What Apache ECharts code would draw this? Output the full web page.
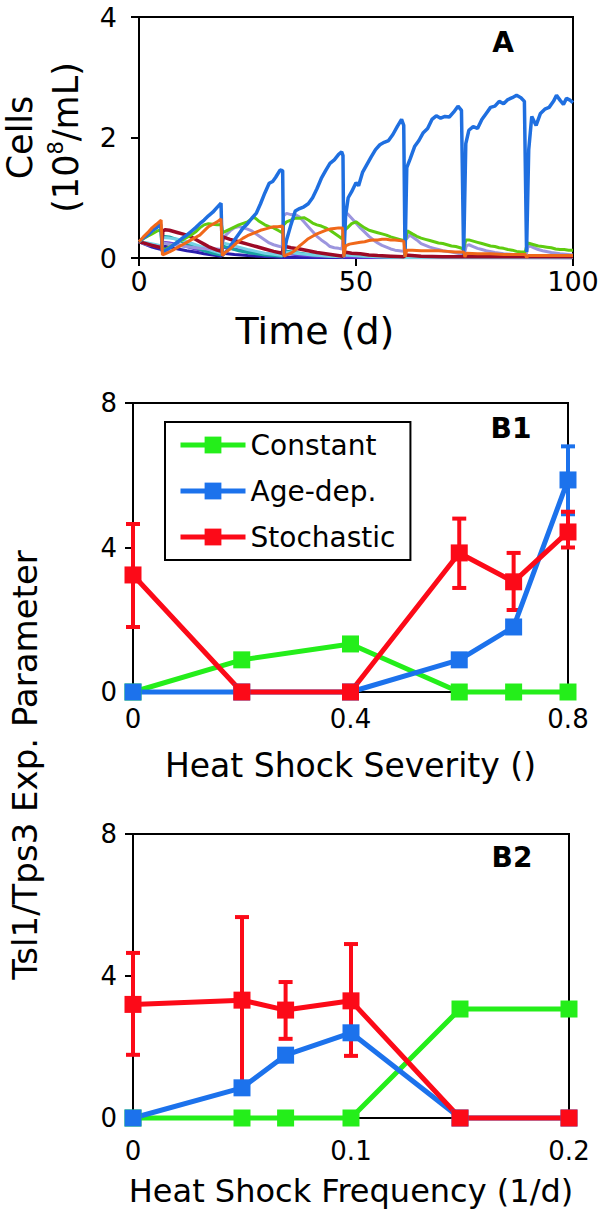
<!DOCTYPE html>
<html><head><meta charset="utf-8">
<script src="https://cdn.jsdelivr.net/npm/echarts@6/dist/echarts.min.js"></script>
<style>html,body{margin:0;padding:0;background:#fff}#c{width:600px;height:1209px}</style>
</head><body><div id="c"></div><script>
// ---------- Panel A data: [time (d), cells (1e8/mL)] ----------
const aBlue = [[0,0.27],[1,0.33],[2,0.38],[3,0.45],[4,0.5],[5,0.56],[5.4,0.1],[6,0.12],[7,0.16],[8,0.22],[9,0.27],[10,0.33],[11,0.38],[12,0.44],[13,0.5],[14,0.57],[15,0.63],[16,0.7],[17,0.76],[18,0.84],[18.9,0.91],[19.2,0.04],[20,0.1],[21,0.19],[22,0.3],[23,0.4],[24,0.5],[25,0.57],[26,0.66],[27,0.74],[28,0.9],[29,1.08],[30,1.24],[30.8,1.27],[31.5,1.34],[32.5,1.46],[33.1,1.45],[33.3,0.03],[34,0.3],[35,0.55],[36,0.78],[37,0.82],[38,0.85],[39,0.9],[40,1.0],[41,1.15],[42,1.32],[43,1.45],[44,1.57],[45,1.63],[46,1.72],[46.7,1.76],[47.0,1.7],[47.2,0.02],[47.6,0.7],[48.2,1.0],[49,1.1],[50,1.25],[50.6,1.2],[51.5,1.42],[52.5,1.55],[53.5,1.68],[54.5,1.8],[55.5,1.88],[56.5,1.92],[57.5,1.95],[58.5,2.05],[59.5,2.18],[60.5,2.3],[61.0,2.2],[61.3,0.02],[61.7,1.5],[62.5,1.65],[63.5,1.85],[64.5,1.95],[65.5,2.08],[66.5,2.15],[67.5,2.3],[68.5,2.36],[69.5,2.32],[70.5,2.35],[71.5,2.34],[72.5,2.42],[73.5,2.52],[74.3,2.45],[74.8,0.05],[75.3,1.9],[76,2.12],[77,2.18],[78,2.15],[79,2.3],[80,2.4],[81,2.5],[82,2.52],[83,2.6],[84,2.56],[85,2.63],[86,2.66],[87,2.7],[88,2.66],[88.8,2.6],[89.3,0.1],[89.8,1.8],[90.5,2.35],[91.5,2.2],[92.5,2.4],[93.5,2.47],[94.5,2.5],[95.5,2.6],[96.2,2.7],[97,2.62],[97.8,2.55],[98.5,2.65],[99.3,2.62],[100,2.58]];
const aGreen = [[0,0.27],[1,0.32],[2,0.36],[3,0.4],[4,0.44],[5,0.47],[5.4,0.15],[6,0.14],[7,0.18],[8,0.22],[9,0.27],[10,0.3],[11,0.34],[12,0.38],[13,0.43],[14,0.5],[15,0.55],[16,0.57],[17,0.56],[18,0.55],[19,0.55],[19.3,0.42],[21,0.48],[23,0.55],[25,0.6],[26.5,0.68],[27.5,0.62],[29,0.55],[30,0.52],[31,0.5],[32,0.46],[33,0.42],[33.3,0.55],[34,0.6],[35,0.63],[36,0.66],[37,0.66],[38,0.67],[39,0.63],[40,0.58],[41,0.55],[42,0.53],[43,0.5],[44,0.46],[45,0.41],[46,0.36],[46.8,0.32],[47.2,0.45],[48,0.5],[49,0.57],[50,0.6],[51,0.55],[52,0.5],[53,0.46],[54,0.44],[55,0.42],[56,0.4],[57,0.38],[58,0.35],[59,0.33],[60,0.31],[61,0.29],[61.3,0.25],[61.8,0.45],[63,0.4],[64,0.36],[65,0.33],[66,0.31],[67,0.29],[68,0.27],[69,0.25],[70,0.24],[71,0.22],[72,0.2],[73,0.19],[74,0.17],[74.8,0.15],[75.3,0.3],[76,0.3],[77,0.28],[78,0.26],[79,0.24],[80,0.22],[81,0.2],[82,0.19],[83,0.17],[84,0.16],[85,0.14],[86,0.13],[87,0.11],[88,0.1],[89,0.1],[89.5,0.25],[90,0.24],[91,0.22],[92,0.2],[93,0.19],[94,0.18],[95,0.17],[96,0.15],[97,0.14],[98,0.14],[99,0.13],[100,0.13]];
const aLavender = [[0,0.27],[2,0.22],[4,0.2],[5.3,0.18],[5.6,0.25],[8,0.22],[10,0.2],[12,0.18],[14,0.16],[16,0.15],[18,0.15],[19,0.14],[19.4,0.3],[20,0.38],[21,0.45],[22,0.5],[23,0.52],[24,0.5],[25,0.48],[26,0.45],[27,0.4],[28,0.35],[29,0.3],[30,0.25],[31,0.22],[32,0.2],[33,0.18],[33.3,0.7],[34,0.74],[35,0.72],[36,0.72],[37,0.68],[38,0.6],[39,0.52],[40,0.44],[41,0.36],[42,0.3],[43,0.25],[44,0.19],[45,0.17],[46,0.16],[46.8,0.15],[47.3,0.7],[48,0.74],[49,0.66],[50,0.58],[51,0.5],[52,0.43],[53,0.36],[54,0.3],[55,0.25],[56,0.21],[57,0.18],[58,0.15],[59,0.13],[60,0.12],[61,0.11],[61.4,0.3],[62.4,0.38],[64,0.3],[65,0.24],[66,0.21],[67,0.18],[68,0.16],[69,0.14],[70,0.12],[72,0.1],[74,0.07],[75,0.07],[75.4,0.2],[76,0.22],[77,0.19],[78,0.16],[79,0.14],[80,0.12],[82,0.09],[84,0.07],[86,0.06],[88,0.05],[89.2,0.05],[89.6,0.18],[90,0.2],[91,0.17],[92,0.14],[93,0.12],[95,0.09],[97,0.07],[100,0.05]];
const aOrange = [[0,0.27],[1,0.35],[2,0.42],[3,0.5],[4,0.56],[5.1,0.63],[5.4,0.05],[6,0.07],[7,0.1],[8,0.14],[9,0.18],[10,0.22],[11,0.26],[12,0.3],[13,0.34],[14,0.38],[15,0.45],[16,0.52],[17,0.56],[18,0.6],[18.9,0.65],[19.2,0.04],[20,0.1],[21,0.15],[22,0.22],[23,0.28],[24,0.33],[25,0.37],[26,0.4],[27,0.43],[28,0.46],[29,0.48],[30,0.5],[31,0.52],[32,0.52],[33.1,0.53],[33.4,0.03],[34,0.05],[35,0.08],[36,0.13],[37,0.2],[38,0.26],[39,0.32],[40,0.36],[41,0.4],[42,0.43],[43,0.46],[44,0.48],[45,0.49],[46,0.5],[46.9,0.5],[47.2,0.02],[47.6,0.2],[48.5,0.23],[50,0.25],[51,0.26],[52,0.27],[53,0.29],[54,0.3],[55,0.3],[56,0.31],[57,0.31],[58,0.3],[59,0.3],[60,0.29],[61,0.28],[61.3,0.02],[61.7,0.13],[63,0.13],[65,0.12],[67,0.12],[69,0.12],[71,0.11],[73,0.1],[74.8,0.1],[75.1,0.02],[75.5,0.08],[78,0.07],[81,0.07],[84,0.06],[87,0.06],[89,0.06],[89.3,0.01],[89.7,0.04],[92,0.04],[95,0.04],[100,0.04]];
const aMaroon = [[0,0.27],[1,0.25],[2,0.23],[3,0.21],[4,0.19],[5.2,0.17],[5.5,0.44],[6,0.47],[7,0.46],[8,0.44],[9,0.42],[10,0.4],[11,0.38],[12,0.35],[13,0.31],[14,0.27],[15,0.23],[16,0.19],[17,0.16],[18,0.13],[19,0.11],[19.3,0.35],[21,0.31],[23,0.27],[25,0.23],[27,0.19],[29,0.15],[31,0.11],[33,0.08],[33.3,0.2],[35,0.17],[37,0.15],[39,0.12],[41,0.09],[43,0.07],[45,0.05],[47,0.03],[47.3,0.1],[49,0.08],[51,0.07],[53,0.05],[55,0.04],[58,0.03],[61,0.02],[61.4,0.05],[65,0.03],[70,0.02],[75,0.02],[80,0.02],[90,0.02],[100,0.02]];
const aTeal = [[0,0.27],[2,0.24],[4,0.2],[5.2,0.18],[5.5,0.36],[7,0.35],[9,0.3],[11,0.24],[13,0.18],[15,0.12],[17,0.08],[19,0.05],[19.3,0.2],[21,0.16],[23,0.12],[25,0.09],[27,0.07],[29,0.05],[31,0.04],[33,0.03],[33.3,0.12],[36,0.09],[39,0.06],[42,0.04],[45,0.03],[47,0.02],[47.3,0.06],[50,0.04],[55,0.02],[61,0.01],[70,0.01],[100,0.01]];
const aCyan = [[0,0.27],[2,0.25],[4,0.22],[5.2,0.2],[5.5,0.34],[7,0.33],[9,0.31],[11,0.27],[13,0.22],[15,0.17],[17,0.12],[19,0.08],[19.3,0.25],[21,0.22],[23,0.18],[25,0.14],[27,0.11],[29,0.08],[31,0.06],[33,0.04],[33.3,0.1],[36,0.08],[40,0.05],[44,0.03],[47,0.02],[47.3,0.05],[52,0.03],[60,0.01],[100,0.01]];
const aDarkBlue = [[0,0.27],[1,0.24],[2,0.21],[3,0.18],[4,0.16],[5.2,0.14],[5.5,0.2],[7,0.18],[9,0.15],[11,0.12],[13,0.1],[15,0.07],[17,0.05],[19,0.03],[19.3,0.08],[22,0.06],[25,0.04],[28,0.03],[33,0.01],[40,0.01],[100,0.0]];
const aPurple = [[0,0.27],[2,0.23],[4,0.19],[5.2,0.16],[5.5,0.26],[7,0.25],[9,0.22],[11,0.19],[13,0.15],[15,0.12],[17,0.1],[19,0.08],[19.3,0.18],[22,0.15],[25,0.11],[28,0.08],[31,0.06],[33,0.05],[33.3,0.08],[37,0.05],[41,0.03],[47,0.02],[55,0.01],[100,0.01]];

// ---------- Panel B1 data ----------
const b1X = [0, 0.2, 0.4, 0.6, 0.7, 0.8];
const b1Constant = [0, 0.89, 1.33, 0, 0, 0];
const b1Age = [0, 0, 0, 0.89, 1.8, 5.87];
const b1Stoch = [3.24, 0, 0, 3.85, 3.05, 4.43];
const b1AgeErr = [[0.8, 4.92, 6.8]];            // [x, low, high]
const b1StochErr = [[0, 1.8, 4.65], [0.6, 2.88, 4.8], [0.7, 2.27, 3.85], [0.8, 4.0, 4.99]];

// ---------- Panel B2 data ----------
const b2X = [0, 0.05, 0.07, 0.1, 0.15, 0.2];
const b2Constant = [0, 0, 0, 0, 3.07, 3.07];
const b2Age = [0, 0.85, 1.77, 2.4, 0, 0];
const b2Stoch = [3.2, 3.32, 3.04, 3.3, 0, 0];
const b2StochErr = [[0, 1.78, 4.65], [0.05, 0.98, 5.66], [0.07, 2.23, 3.83], [0.1, 1.75, 4.9]];

const seriesNames = ['Constant', 'Age-dep.', 'Stochastic'];

const FONT = 'DejaVu Sans';
const C_GREEN = '#24ee1a', C_BLUE = '#1c72ec', C_RED = '#fc0a18';

function zip(xs, ys) { return xs.map((x, i) => [x, ys[i]]); }

const axisCommon = {
  axisLine: { show: true, onZero: false, lineStyle: { color: '#000', width: 2 } },
  axisTick: { show: true, inside: false, length: 8, lineStyle: { color: '#000', width: 2 } },
  splitLine: { show: false },
};

function errSeries(data, color, xi) {
  return {
    type: 'custom', xAxisIndex: xi, yAxisIndex: xi, data: data, silent: true, z: 3,
    encode: { x: 0, y: [1, 2] },
    renderItem: function (params, api) {
      const x = api.value(0), lo = api.value(1), hi = api.value(2);
      const p1 = api.coord([x, hi]), p2 = api.coord([x, lo]);
      const w = 7, st = { stroke: color, lineWidth: 4 };
      return { type: 'group', children: [
        { type: 'line', shape: { x1: p1[0], y1: p1[1], x2: p2[0], y2: p2[1] }, style: st },
        { type: 'line', shape: { x1: p1[0] - w, y1: p1[1], x2: p1[0] + w, y2: p1[1] }, style: st },
        { type: 'line', shape: { x1: p2[0] - w, y1: p2[1], x2: p2[0] + w, y2: p2[1] }, style: st }
      ]};
    }
  };
}

function lineB(name, data, color, xi) {
  return {
    name: name, type: 'line', xAxisIndex: xi, yAxisIndex: xi, data: data,
    symbol: 'rect', symbolSize: 17, showSymbol: true, clip: false, z: 4,
    lineStyle: { color: color, width: 5 }, itemStyle: { color: color },
    emphasis: { disabled: true }, animation: false
  };
}
function lineA(data, color, w) {
  return {
    type: 'line', xAxisIndex: 0, yAxisIndex: 0, data: data, showSymbol: false, symbol: 'none',
    lineStyle: { color: color, width: w || 3 }, emphasis: { disabled: true }, animation: false
  };
}

const chart = echarts.init(document.getElementById('c'), null, { renderer: 'svg', width: 600, height: 1209 });
chart.setOption({
  backgroundColor: '#fff',
  animation: false,
  textStyle: { fontFamily: FONT, color: '#000' },
  grid: [
    { left: 139, top: 17, width: 434, height: 241, show: true, borderColor: '#000', borderWidth: 2, outerBoundsMode: 'none', containLabel: false },
    { left: 133, top: 403, width: 435, height: 289, show: true, borderColor: '#000', borderWidth: 2, outerBoundsMode: 'none', containLabel: false },
    { left: 133, top: 834, width: 436, height: 284, show: true, borderColor: '#000', borderWidth: 2, outerBoundsMode: 'none', containLabel: false }
  ],
  xAxis: [
    Object.assign({ gridIndex: 0, type: 'value', min: 0, max: 100, interval: 50,
      axisLabel: { fontSize: 27, color: '#000', margin: 10, fontFamily: FONT } }, axisCommon),
    Object.assign({ gridIndex: 1, type: 'value', min: 0, max: 0.8, interval: 0.4,
      axisLabel: { fontSize: 26, color: '#000', margin: 14, fontFamily: FONT },
      name: 'Heat Shock Severity ()', nameLocation: 'middle', nameGap: 57,
      nameTextStyle: { fontSize: 33, color: '#000', fontFamily: FONT } }, axisCommon),
    Object.assign({ gridIndex: 2, type: 'value', min: 0, max: 0.2, interval: 0.1,
      axisLabel: { fontSize: 26, color: '#000', margin: 20, fontFamily: FONT },
      name: 'Heat Shock Frequency (1/d)', nameLocation: 'middle', nameGap: 57,
      nameTextStyle: { fontSize: 32, color: '#000', fontFamily: FONT } }, axisCommon)
  ],
  yAxis: [
    Object.assign({ gridIndex: 0, type: 'value', min: 0, max: 4, interval: 2,
      axisLabel: { fontSize: 27, color: '#000', margin: 22, fontFamily: FONT },
      name: '{a|Cells}\n{a|(10}{s|8}{a|/mL)}', nameLocation: 'middle', nameGap: 50, nameRotate: 90,
      nameTextStyle: { fontFamily: FONT, rich: {
        a: { fontSize: 35, lineHeight: 46, color: '#000', fontFamily: FONT },
        s: { fontSize: 21, lineHeight: 46, color: '#000', fontFamily: FONT, padding: [0, 0, 20, 0] } } } }, axisCommon),
    Object.assign({ gridIndex: 1, type: 'value', min: 0, max: 8, interval: 4,
      axisLabel: { fontSize: 26, color: '#000', margin: 16, fontFamily: FONT } }, axisCommon),
    Object.assign({ gridIndex: 2, type: 'value', min: 0, max: 8, interval: 4,
      axisLabel: { fontSize: 26, color: '#000', margin: 16, fontFamily: FONT } }, axisCommon)
  ],
  legend: {
    data: seriesNames, orient: 'vertical', left: 165, top: 422,
    padding: [7, 15, 7, 13], itemGap: 14, itemWidth: 65, itemHeight: 21,
    borderColor: '#000', borderWidth: 2, backgroundColor: '#fff',
    lineStyle: { width: 5 },
    textStyle: { fontSize: 28, color: '#000', fontFamily: FONT, lineHeight: 32 },
    selectedMode: false
  },
  graphic: [
    { type: 'text', x: 503, y: 42, style: { text: 'A', fill: '#000', font: 'bold 28px "DejaVu Sans"', align: 'center', verticalAlign: 'middle' } },
    { type: 'text', x: 511, y: 428, style: { text: 'B1', fill: '#000', font: 'bold 28px "DejaVu Sans"', align: 'center', verticalAlign: 'middle' } },
    { type: 'text', x: 512, y: 857, style: { text: 'B2', fill: '#000', font: 'bold 28px "DejaVu Sans"', align: 'center', verticalAlign: 'middle' } },
    { type: 'text', x: 315, y: 331, style: { text: 'Time (d)', fill: '#000', font: '38px "DejaVu Sans"', align: 'center', verticalAlign: 'middle' } },
    { type: 'text', x: 25, y: 765, rotation: Math.PI / 2, style: { text: 'Tsl1/Tps3 Exp. Parameter', fill: '#000', font: '34px "DejaVu Sans"', align: 'center', verticalAlign: 'middle' } }
  ],
  series: [
    lineA(aDarkBlue, '#2b1fae', 3),
    lineA(aPurple, '#6a3ad6', 3),
    lineA(aTeal, '#17a3a0', 3),
    lineA(aCyan, '#74d2e4', 3),
    lineA(aLavender, '#9c95de', 3),
    lineA(aMaroon, '#9c0a26', 3.5),
    lineA(aGreen, '#5fcc10', 3),
    lineA(aBlue, '#1f6fe0', 3.5),
    lineA(aOrange, '#f0681a', 3),

    lineB('Constant', zip(b1X, b1Constant), C_GREEN, 1),
    lineB('Age-dep.', zip(b1X, b1Age), C_BLUE, 1),
    errSeries(b1AgeErr, C_BLUE, 1),
    lineB('Stochastic', zip(b1X, b1Stoch), C_RED, 1),
    errSeries(b1StochErr, C_RED, 1),

    lineB('Constant', zip(b2X, b2Constant), C_GREEN, 2),
    lineB('Age-dep.', zip(b2X, b2Age), C_BLUE, 2),
    lineB('Stochastic', zip(b2X, b2Stoch), C_RED, 2),
    errSeries(b2StochErr, C_RED, 2)
  ]
});
</script></body></html>
